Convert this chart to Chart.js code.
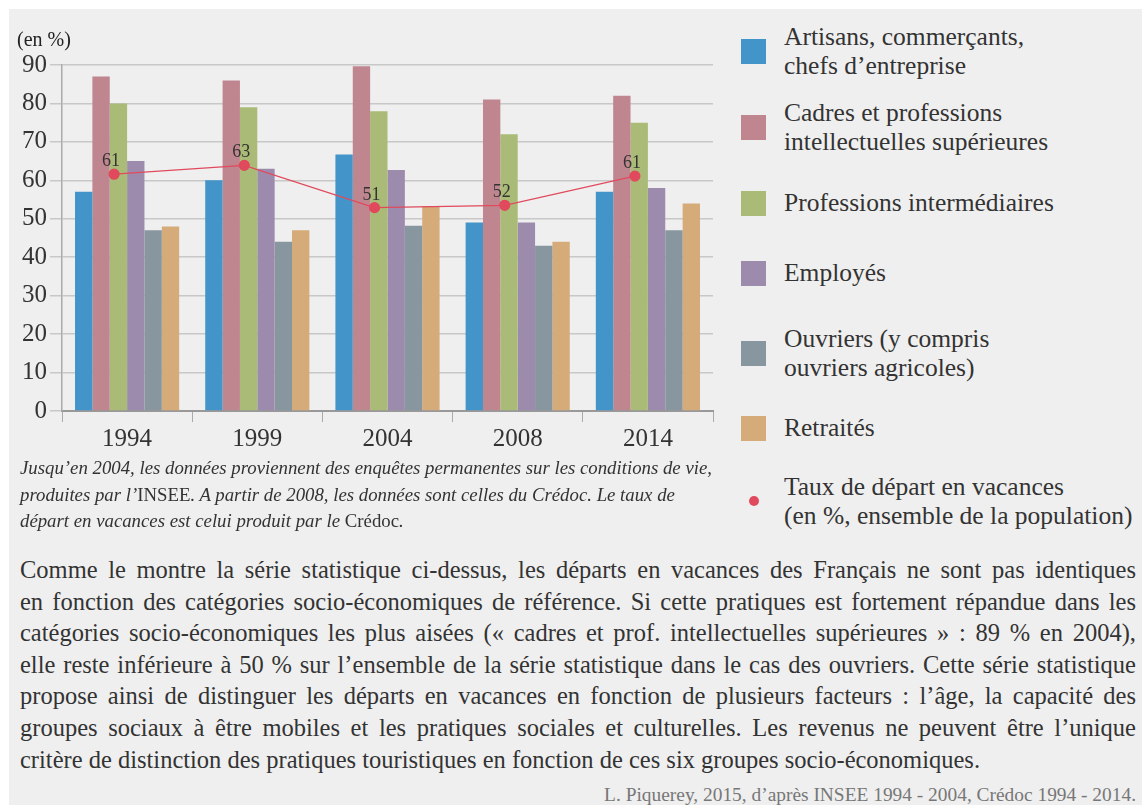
<!DOCTYPE html>
<html lang="fr">
<head>
<meta charset="utf-8">
<script src="https://cdn.jsdelivr.net/npm/chart.js@4/dist/chart.umd.min.js"></script>
<style>
body{margin:0;background:#fff;font-family:"Liberation Serif",serif;color:#333;}
#panel{position:absolute;left:9px;top:9px;width:1133px;height:796px;background:#efefef;}
#wrap{position:absolute;left:0;top:0;width:720px;height:460px;}
#unite{position:absolute;left:17px;top:28px;font-size:20px;color:#222;}
.leg{position:absolute;left:741px;width:25px;height:25px;}
.legt{position:absolute;left:784px;font-size:25.5px;line-height:29px;color:#333;white-space:nowrap;}
#note{position:absolute;left:20px;top:455px;font-size:18.8px;font-style:italic;line-height:26.5px;color:#333;}
#note span{font-style:normal;}
#texte{position:absolute;left:20px;top:554px;width:1116px;font-size:24.5px;line-height:31.6px;color:#333;}
#texte div{text-align:justify;text-align-last:justify;white-space:nowrap;}
#texte div.fin{text-align-last:left;}
#source{position:absolute;right:6px;top:784px;font-size:19.4px;color:#777;}
</style>
</head>
<body>
<div id="panel"></div>
<div id="wrap"><canvas id="graphe"></canvas></div>
<div id="unite">(en %)</div>

<div class="leg" style="top:39px;background:#4394c8"></div>
<div class="legt" style="top:22px">Artisans, commerçants,<br>chefs d’entreprise</div>
<div class="leg" style="top:115px;background:#c08690"></div>
<div class="legt" style="top:98px">Cadres et professions<br>intellectuelles supérieures</div>
<div class="leg" style="top:191px;background:#a9bb76"></div>
<div class="legt" style="top:188px">Professions intermédiaires</div>
<div class="leg" style="top:261px;background:#9d8bad"></div>
<div class="legt" style="top:258px">Employés</div>
<div class="leg" style="top:341px;background:#88979f"></div>
<div class="legt" style="top:324px">Ouvriers (y compris<br>ouvriers agricoles)</div>
<div class="leg" style="top:416px;background:#d6ab7a"></div>
<div class="legt" style="top:413px">Retraités</div>
<div style="position:absolute;left:749px;top:496px;width:10px;height:10px;border-radius:50%;background:#e04a5c"></div>
<div class="legt" style="top:472px">Taux de départ en vacances<br>(en %, ensemble de la population)</div>

<div id="note">Jusqu’en 2004, les données proviennent des enquêtes permanentes sur les conditions de vie,<br>produites par l’<span>INSEE</span>. A partir de 2008, les données sont celles du Crédoc. Le taux de<br>départ en vacances est celui produit par le <span>Crédoc</span>.</div>

<div id="texte">
<div>Comme le montre la série statistique ci-dessus,  les départs en vacances des Français ne sont pas identiques</div>
<div>en fonction des catégories socio-économiques de référence. Si cette pratiques est fortement répandue dans les</div>
<div>catégories socio-économiques les plus aisées (« cadres et prof. intellectuelles supérieures » : 89 % en 2004),</div>
<div>elle reste inférieure à 50 % sur l’ensemble de la série statistique dans le cas des ouvriers. Cette série statistique</div>
<div>propose ainsi de distinguer les départs en vacances en fonction de plusieurs facteurs : l’âge, la capacité des</div>
<div>groupes sociaux à être mobiles et les pratiques sociales et culturelles. Les revenus ne peuvent être l’unique</div>
<div class="fin">critère de distinction des pratiques touristiques en fonction de ces six groupes socio-économiques.</div>
</div>
<div id="source">L. Piquerey, 2015, d’après INSEE 1994 - 2004, Crédoc 1994 - 2014.</div>

<script>
// donnees
const annees = ['1994', '1999', '2004', '2008', '2014'];
const artisans = [57, 60, 66.7, 49, 57];
const cadres = [87, 86, 89.7, 81, 82];
const intermediaires = [80, 79, 78, 72, 75];
const employes = [65, 63, 62.7, 49, 58];
const ouvriers = [47, 44, 48.2, 43, 47];
const retraites = [48, 47, 53.3, 44, 54];
const tauxDepart = [61.6, 63.9, 52.9, 53.5, 61.1];
const tauxEtiquettes = ['61', '63', '51', '52', '61'];
const graduations = [0, 10, 20, 30, 40, 50, 60, 70, 80, 90];

const couleurs = ['#4394c8', '#c08690', '#a9bb76', '#9d8bad', '#88979f', '#d6ab7a'];
const series = [artisans, cadres, intermediaires, employes, ouvriers, retraites];
const noms = ['Artisans', 'Cadres', 'Intermédiaires', 'Employés', 'Ouvriers', 'Retraités'];
// la courbe est un peu a gauche du centre de chaque groupe (fraction d'une categorie)
const decalage = -0.1;

const jeux = series.map(function(s, i) {
  return {
    type: 'bar',
    label: noms[i],
    data: s,
    backgroundColor: couleurs[i],
    categoryPercentage: 0.8,
    barPercentage: 1.0,
    order: 2
  };
});
jeux.push({
  type: 'line',
  label: 'Taux de départ',
  data: tauxDepart,
  borderColor: '#e04a5c',
  backgroundColor: '#e04a5c',
  borderWidth: 1.2,
  pointRadius: 5,
  pointHoverRadius: 5,
  order: 1
});

function ecart(chart) {
  const x = chart.scales.x;
  return (x.getPixelForValue(1) - x.getPixelForValue(0)) * decalage;
}

const courbe = {
  id: 'courbe',
  beforeDatasetDraw(chart, args) {
    if (args.index !== 6) return;
    chart.ctx.save();
    chart.ctx.translate(ecart(chart), 0);
  },
  afterDatasetDraw(chart, args) {
    if (args.index !== 6) return;
    chart.ctx.restore();
  },
  afterDatasetsDraw(chart) {
    const ctx = chart.ctx;
    const meta = chart.getDatasetMeta(6);
    const dx = ecart(chart);
    ctx.save();
    ctx.font = '18px "Liberation Serif"';
    ctx.fillStyle = '#333';
    ctx.textAlign = 'center';
    ctx.textBaseline = 'alphabetic';
    meta.data.forEach(function(p, i) {
      ctx.fillText(tauxEtiquettes[i], p.x + dx - 3, p.y - 8);
    });
    ctx.restore();
  }
};

new Chart(document.getElementById('graphe'), {
  data: {labels: annees, datasets: jeux},
  options: {
    responsive: true,
    maintainAspectRatio: false,
    animation: false,
    layout: {padding: {top: 65, right: 7}},
    plugins: {legend: {display: false}, tooltip: {enabled: false}},
    scales: {
      x: {
        offset: true,
        grid: {offset: true, drawOnChartArea: false, drawTicks: true, tickLength: 11, color: '#aaa'},
        border: {color: '#999', width: 2},
        ticks: {font: {family: 'Liberation Serif', size: 25}, color: '#333', padding: 2},
        afterFit(s) { s.height = 49; }
      },
      y: {
        min: 0,
        max: 90,
        afterBuildTicks(s) { s.ticks = graduations.map(function(v) { return {value: v}; }); },
        grid: {color: '#c8c8c8', lineWidth: 1.5, tickLength: 12},
        border: {color: '#aaa', width: 1.5},
        ticks: {font: {family: 'Liberation Serif', size: 25}, color: '#333', padding: 3},
        afterFit(s) { s.width = 62; }
      }
    }
  },
  plugins: [courbe]
});
</script>
</body>
</html>
